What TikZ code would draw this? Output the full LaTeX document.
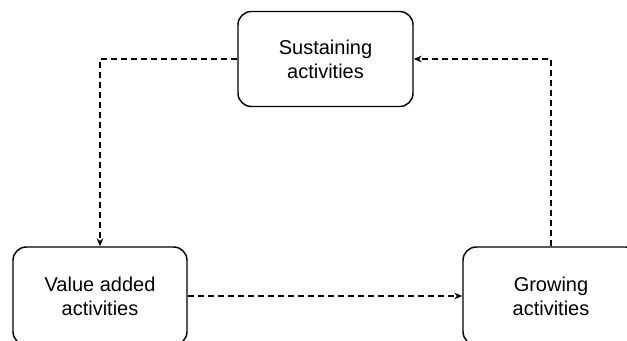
\documentclass[tikz,border=0pt]{standalone}
\usepackage{fontspec}
\setmainfont{Liberation Sans}
\usetikzlibrary{arrows.meta}
\begin{document}
\begin{tikzpicture}[x=0.75pt,y=-0.75pt,
  activity/.style={draw, line width=1.1pt, rounded corners=10pt, align=center,
    inner sep=0pt, font=\fontsize{15}{18}\selectfont},
  flow/.style={draw, line width=0.8pt, dash pattern=on 4.5pt off 3pt,
    -{Stealth[length=6pt,width=5pt]}}]
  \useasboundingbox (0,0) rectangle (627,340);
  \clip (0,0) rectangle (627,340);
  \node[activity, minimum width=175*0.75pt, minimum height=95*0.75pt] (sus) at (325.5,59) {Sustaining\\activities};
  \node[activity, minimum width=174*0.75pt, minimum height=98*0.75pt] (val) at (100,296) {Value added\\activities};
  \node[activity, minimum width=176*0.75pt, minimum height=98*0.75pt] (gro) at (551,296) {Growing\\activities};
  \draw[flow] (sus.west) -| (val.north);
  \draw[flow] (val.east) -- (gro.west);
  \draw[flow] (gro.north) |- (sus.east);
\end{tikzpicture}
\end{document}
